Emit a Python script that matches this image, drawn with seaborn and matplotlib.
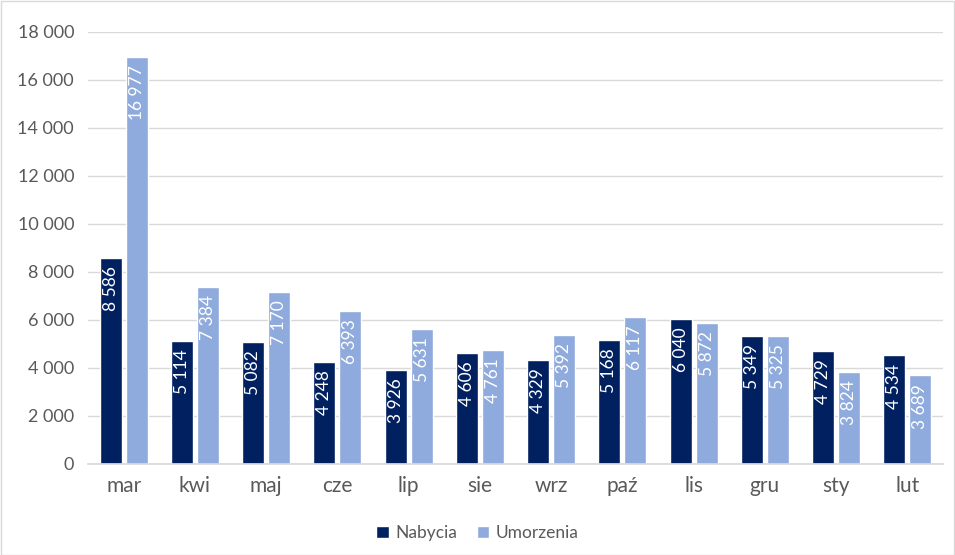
import matplotlib
matplotlib.use("Agg")
import matplotlib.pyplot as plt
import seaborn as sns
import pandas as pd
from matplotlib.ticker import FuncFormatter, MultipleLocator
from matplotlib.patches import Rectangle

months = ["mar", "kwi", "maj", "cze", "lip", "sie", "wrz", "paź", "lis", "gru", "sty", "lut"]
nabycia = [8586, 5114, 5082, 4248, 3926, 4606, 4329, 5168, 6040, 5349, 4729, 4534]
umorzenia = [16977, 7384, 7170, 6393, 5631, 4761, 5392, 6117, 5872, 5325, 3824, 3689]
series_names = ["Nabycia", "Umorzenia"]
colors = ["#002060", "#8FAADC"]

df = pd.DataFrame({
    "month": months * 2,
    "value": nabycia + umorzenia,
    "series": [series_names[0]] * len(months) + [series_names[1]] * len(months),
})

sns.set_theme(style="white")
plt.rcParams["font.family"] = ["Lato", "DejaVu Sans"]

fig = plt.figure(figsize=(9.55, 5.55), dpi=100)
ax = fig.add_axes([88/955, 1 - 464/555, (943 - 88)/955, (464 - 32)/555])

sns.barplot(data=df, x="month", y="value", hue="series", palette=colors,
            width=0.73, gap=0.15, ax=ax, saturation=1, errorbar=None)

fmt = lambda v: f"{int(v):,}".replace(",", " ")
for cont in ax.containers:
    for p in cont:
        h = p.get_height()
        ax.annotate(fmt(h), (p.get_x() + p.get_width() / 2, h), xytext=(0, -6),
                    textcoords="offset points", rotation=90, ha="center", va="top",
                    color="white", fontsize=12.5)

ax.set_ylim(0, 18000)
ax.yaxis.set_major_locator(MultipleLocator(2000))
ax.yaxis.set_major_formatter(FuncFormatter(lambda v, _: fmt(v)))
ax.grid(axis="y", color="#D9D9D9", linewidth=1)
ax.set_axisbelow(True)
for s in ["left", "right", "top"]:
    ax.spines[s].set_visible(False)
ax.spines["bottom"].set_color("#D9D9D9")
ax.set_xlabel("")
ax.set_ylabel("")
ax.tick_params(axis="y", colors="#595959", labelsize=13, length=0, pad=10)
ax.tick_params(axis="x", colors="#595959", labelsize=15, length=0, pad=9)

handles, labels = ax.get_legend_handles_labels()
ax.legend(handles, labels, loc="center", frameon=False,
          ncol=2, fontsize=12.5, handlelength=0.7, handleheight=0.7, handletextpad=0.4,
          columnspacing=1.1, labelcolor="#595959")
ax.get_legend().set_bbox_to_anchor((0.5, 1 - 533/555), transform=fig.transFigure)

fig.patches.append(Rectangle((0.5/955, 0.5/555), 1 - 1.5/955, 1 - 1.5/555,
                             transform=fig.transFigure, fill=False,
                             edgecolor="#D9D9D9", linewidth=1))

fig.savefig("out.png", dpi=100)
